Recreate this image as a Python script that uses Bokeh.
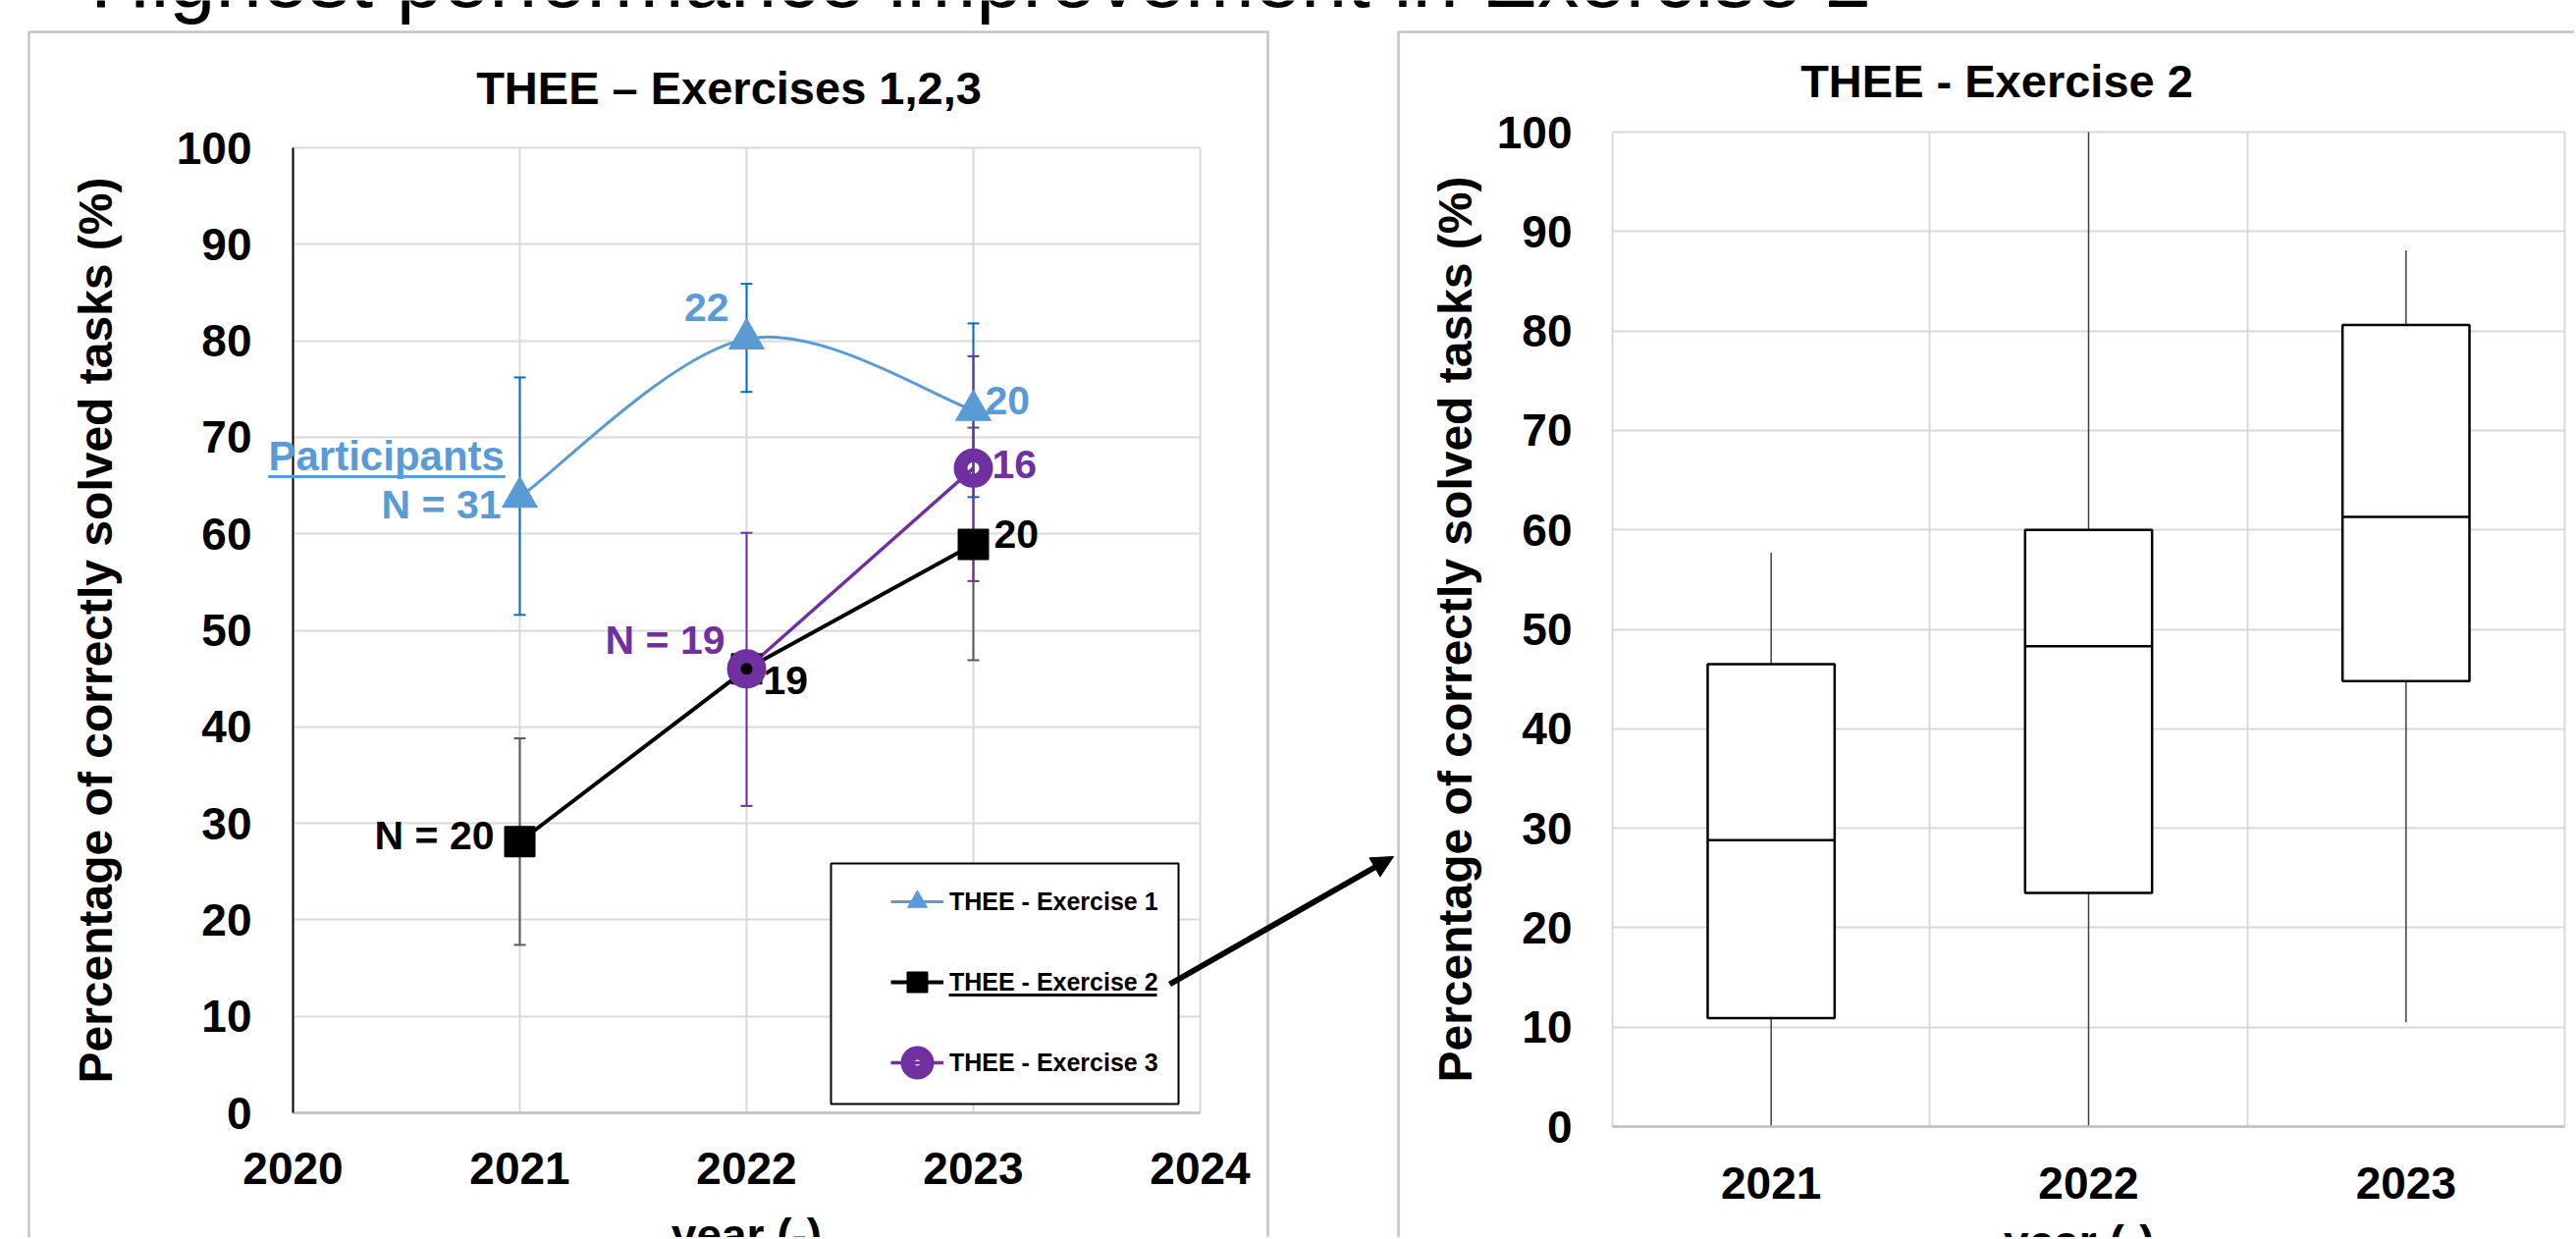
import numpy as np
from bokeh.plotting import figure
from bokeh.layouts import column, row
from bokeh.models import (Range1d, FixedTicker, Whisker, TeeHead, Legend, LegendItem, Label,
                          Arrow, NormalHead, PolyAnnotation, ColumnDataSource, Grid)
from bokeh.embed import file_html
from bokeh.resources import INLINE

# ----------------------------------------------------------------- data
years = [2021, 2022, 2023]

ex1_mean = [63.8, 80.2, 72.8]
ex1_low = [51.6, 74.7, 63.8]
ex1_high = [76.2, 85.9, 81.8]
ex1_n = ["N = 31", "22", "20"]

ex2_mean = [28.1, 46.0, 58.9]
ex2_low = [17.4, None, 46.9]
ex2_high = [38.8, None, 71.0]
ex2_n = ["N = 20", "19", "20"]

ex3_years = [2022, 2023]
ex3_mean = [46.0, 66.8]
ex3_low = [31.8, 55.1]
ex3_high = [60.1, 78.4]
ex3_n = ["N = 19", "16"]

series_names = ["THEE - Exercise 1", "THEE - Exercise 2", "THEE - Exercise 3"]

box_years = ["2021", "2022", "2023"]
box_min = [0.0, 0.0, 10.5]
box_q1 = [10.9, 23.5, 44.8]
box_median = [28.8, 48.3, 61.3]
box_q3 = [46.5, 60.0, 80.6]
box_max = [57.7, 100.0, 88.1]

x_ticks = [2020, 2021, 2022, 2023, 2024]
y_ticks = [0, 10, 20, 30, 40, 50, 60, 70, 80, 90, 100]

slide_title = "Highest performance improvement in Exercise 2"
left_title = "THEE \u2013 Exercises 1,2,3"
right_title = "THEE - Exercise 2"
y_label = "Percentage of correctly solved tasks (%)"
x_label = "year (-)"

# ----------------------------------------------------------------- style / geometry
FONT = "Liberation Sans"
BLUE = "#5B9BD5"
BLUE_ERR = "#0070C0"
PURPLE = "#7030A0"
GRAY_ERR = "#595959"
GRID = "#D9D9D9"
BOX_LINE = "#3A3A3A"
MID = 0.3465          # baseline -> middle of text box, in em

TOTAL_W = 2622
TOTAL_H = 1260
TOP_H = 28            # strip with the (cut) slide title
H = TOTAL_H - TOP_H   # chart canvases
W1 = 1422
W2 = TOTAL_W - W1

# picture-pixel position of the data frames
L_LEFT, L_RIGHT, L_TOP, L_BOTTOM = 298, 1222, 150, 1133
R_LEFT, R_RIGHT, R_TOP, R_BOTTOM = 1642, 2612, 134, 1147

HAS_CROSS = "cross_bounds" in Grid.properties()


def lin_range(pa, va, pb, vb, size):
    s = (vb - va) / (pb - pa)
    a = va - pa * s
    b = va + (size - pa) * s
    return Range1d(min(a, b), max(a, b))


def p1x(px):
    return 2020 + (px - L_LEFT) / (L_RIGHT - L_LEFT) * 4


def p1y(py):
    return (L_BOTTOM - py) / (L_BOTTOM - L_TOP) * 100


def p2x(px):
    return (px - R_LEFT) / (R_RIGHT - R_LEFT) * 3


def p2y(py):
    return (R_BOTTOM - py) / (R_BOTTOM - R_TOP) * 100


def style_axes(p, standoff_x, standoff_y):
    for ax in (p.xaxis[0], p.yaxis[0]):
        ax.major_tick_out = 0
        ax.major_tick_in = 0
        ax.minor_tick_out = 0
        ax.minor_tick_in = 0
        ax.major_label_text_font = FONT
        ax.major_label_text_font_size = "46px"
        ax.major_label_text_font_style = "bold"
        ax.major_label_text_color = "black"
        ax.axis_label_text_font = FONT
        ax.axis_label_text_font_size = "48px"
        ax.axis_label_text_font_style = "bold"
        ax.axis_label_text_color = "black"
    p.xaxis[0].major_label_standoff = standoff_x
    p.yaxis[0].major_label_standoff = standoff_y


def grids(p, xt, yt, xb, yb):
    if HAS_CROSS:
        p.xgrid.ticker = FixedTicker(ticks=xt)
        p.ygrid.ticker = FixedTicker(ticks=yt)
        p.xgrid.bounds = xb
        p.ygrid.bounds = yb
        p.xgrid.cross_bounds = yb
        p.ygrid.cross_bounds = xb
        p.grid.grid_line_color = GRID
        p.grid.grid_line_width = 2
    else:
        p.grid.visible = False
        p.segment(x0=xt, y0=[yb[0]] * len(xt), x1=xt, y1=[yb[1]] * len(xt),
                  line_color=GRID, line_width=2, level="underlay")
        p.segment(x0=[xb[0]] * len(yt), y0=yt, x1=[xb[1]] * len(yt), y1=yt,
                  line_color=GRID, line_width=2, level="underlay")


def add_label(p, x, y, text, size, color, align="left", dx=0, dy=0):
    # dx, dy: screen px offsets (+down) of the text baseline from (x, y)
    fs = float(size)
    p.add_layout(Label(x=x, y=y, x_offset=dx, y_offset=-(dy - MID * fs), text=text,
                       text_align=align, text_baseline="middle", text_font=FONT,
                       text_font_size="%dpx" % size, text_font_style="bold", text_color=color))


# ----------------------------------------------------------------- slide title strip
p0 = figure(width=TOTAL_W, height=TOP_H, x_range=Range1d(0, TOTAL_W), y_range=Range1d(0, TOP_H),
            output_backend="svg", toolbar_location=None, x_axis_location=None,
            y_axis_location=None, min_border=0)
p0.outline_line_color = None
p0.grid.visible = False
p0.add_layout(Label(x=91.5, y=TOP_H - (6 - MID * 85), text=slide_title, text_font=FONT,
                    text_font_size="85px", text_color="black", text_baseline="middle"))

# ----------------------------------------------------------------- left chart
p1 = figure(width=W1, height=H,
            x_range=lin_range(L_LEFT, 2020, L_RIGHT, 2024, W1),
            y_range=lin_range(L_TOP - TOP_H, 100, L_BOTTOM - TOP_H, 0, H),
            output_backend="svg", toolbar_location=None, min_border=0)
p1.outline_line_color = None
p1.xaxis.ticker = FixedTicker(ticks=x_ticks)
p1.yaxis.ticker = FixedTicker(ticks=y_ticks)
p1.xaxis.fixed_location = 0
p1.yaxis.fixed_location = 2020
p1.xaxis.bounds = (2020, 2024)
p1.yaxis.bounds = (0, 100)
grids(p1, x_ticks, y_ticks, (2020, 2024), (0, 100))
style_axes(p1, 40, 42)
p1.yaxis.axis_line_color = "black"
p1.yaxis.axis_line_width = 2
p1.xaxis.axis_line_color = "#BFBFBF"
p1.xaxis.axis_line_width = 2.5
p1.yaxis.axis_label = y_label
p1.yaxis.axis_label_standoff = 53

# chart title
add_label(p1, p1x(742), p1y(105), left_title, 47, "black", align="center")

# legend frame (white box hiding the grid)
p1.quad(left=p1x(846), right=p1x(1200), top=p1y(879), bottom=p1y(1124),
        fill_color="white", line_color="black", line_width=2)


def add_err(xs, lows, highs, color):
    keep = [i for i in range(len(xs)) if lows[i] is not None]
    src = ColumnDataSource(dict(x=[xs[i] for i in keep], lo=[lows[i] for i in keep],
                                hi=[highs[i] for i in keep]))
    p1.add_layout(Whisker(source=src, base="x", lower="lo", upper="hi", dimension="height",
                          line_color=color, line_width=2, level="underlay",
                          upper_head=TeeHead(size=12, line_color=color, line_width=2),
                          lower_head=TeeHead(size=12, line_color=color, line_width=2)))


add_err(years, ex1_low, ex1_high, BLUE_ERR)
add_err(years, ex2_low, ex2_high, GRAY_ERR)
add_err(ex3_years, ex3_low, ex3_high, PURPLE)

# exercise 1: smoothed line (Catmull-Rom bezier through the data points)
xs = np.array(years, dtype=float)
ys = np.array(ex1_mean, dtype=float)
qx = np.concatenate([[xs[0]], xs, [xs[-1]]])
qy = np.concatenate([[ys[0]], ys, [ys[-1]]])
n = len(xs)
cx0 = [qx[i + 1] + (qx[i + 2] - qx[i]) / 6 for i in range(n - 1)]
cy0 = [qy[i + 1] + (qy[i + 2] - qy[i]) / 6 for i in range(n - 1)]
cx1 = [qx[i + 2] - (qx[i + 3] - qx[i + 1]) / 6 for i in range(n - 1)]
cy1 = [qy[i + 2] - (qy[i + 3] - qy[i + 1]) / 6 for i in range(n - 1)]
ex1_curve = p1.bezier(x0=xs[:-1], y0=ys[:-1], x1=xs[1:], y1=ys[1:],
                      cx0=cx0, cy0=cy0, cx1=cx1, cy1=cy1, line_color=BLUE, line_width=3)
ex2_line = p1.line(years, ex2_mean, line_color="black", line_width=4)
ex3_line = p1.line(ex3_years, ex3_mean, line_color=PURPLE, line_width=3.5)

ex1_pts = p1.scatter(years, ex1_mean, marker="triangle", size=36, fill_color=BLUE,
                     line_color=BLUE, line_width=1)
ex2_pts = p1.scatter(years, ex2_mean, marker="square", size=30, fill_color="black",
                     line_color="black", line_width=2, line_join="round")
ex3_pts = p1.scatter(ex3_years, ex3_mean, marker="circle", size=26, fill_alpha=0,
                     line_color=PURPLE, line_width=14)

legend = Legend(items=[LegendItem(label=series_names[0], renderers=[ex1_curve, ex1_pts]),
                       LegendItem(label=series_names[1], renderers=[ex2_line, ex2_pts]),
                       LegendItem(label=series_names[2], renderers=[ex3_line, ex3_pts])],
                location=(907, 139 + (H - 1218)), orientation="vertical", glyph_width=54,
                glyph_height=50, label_height=50, spacing=32, padding=10, margin=0,
                label_standoff=6, label_text_font=FONT, label_text_font_size="25px",
                label_text_font_style="bold", label_text_color="black",
                border_line_color=None, background_fill_alpha=0)
p1.add_layout(legend)

# underline of the highlighted legend entry
p1.add_layout(PolyAnnotation(xs=[p1x(966), p1x(1178), p1x(1178), p1x(966)],
                             ys=[p1y(1011.5), p1y(1011.5), p1y(1014.5), p1y(1014.5)],
                             fill_color="black", fill_alpha=1, line_alpha=0))

# point annotations: (dx, dy) screen px of the text baseline from the point, +down
label_offsets = {
    ("ex1", 0): (-19, 22, "right"),
    ("ex1", 1): (-18, -18, "right"),
    ("ex1", 2): (12, 4, "left"),
    ("ex2", 0): (-26, 8, "right"),
    ("ex2", 1): (17, 26, "left"),
    ("ex2", 2): (21, 4, "left"),
    ("ex3", 0): (-22, -15, "right"),
    ("ex3", 1): (19, 10, "left"),
}
for key, xs_, ys_, texts, color in (("ex1", years, ex1_mean, ex1_n, BLUE),
                                     ("ex2", years, ex2_mean, ex2_n, "black"),
                                     ("ex3", ex3_years, ex3_mean, ex3_n, PURPLE)):
    for i, t in enumerate(texts):
        dx, dy, al = label_offsets[(key, i)]
        add_label(p1, xs_[i], ys_[i], t, 41, color, align=al, dx=dx, dy=dy)

add_label(p1, years[0], ex1_mean[0], "Participants", 42, BLUE, align="left", dx=-256, dy=-27.5)
p1.add_layout(PolyAnnotation(xs=[p1x(272.7), p1x(514.3), p1x(514.3), p1x(272.7)],
                             ys=[p1y(483.5), p1y(483.5), p1y(486.5), p1y(486.5)],
                             fill_color=BLUE, fill_alpha=1, line_alpha=0))

# x axis title (cut by the bottom edge, as in the slide)
add_label(p1, 2022, p1y(1232 + 0.905 * 46), x_label, 46, "black", align="center")

# chart-area border and connecting arrow
p1.add_layout(PolyAnnotation(xs=[p1x(29), p1x(29), p1x(1291), p1x(1291)],
                             ys=[p1y(1500), p1y(32), p1y(32), p1y(1500)],
                             fill_alpha=0, line_color=BOX_LINE, line_width=2.5))
p1.add_layout(Arrow(end=NormalHead(size=22, fill_color="black", line_color="black"),
                    x_start=p1x(1191), y_start=p1y(1002), x_end=p1x(1419), y_end=p1y(872),
                    line_color="black", line_width=6))

# ----------------------------------------------------------------- right chart (box plot)
box_x = [i + 0.5 for i in range(len(box_years))]
cat_edges = list(range(len(box_years) + 1))

p2 = figure(width=W2, height=H,
            x_range=lin_range(R_LEFT - W1, 0, R_RIGHT - W1, 3, W2),
            y_range=lin_range(R_TOP - TOP_H, 100, R_BOTTOM - TOP_H, 0, H),
            output_backend="svg", toolbar_location=None, min_border=0)
p2.outline_line_color = None
p2.xaxis.ticker = FixedTicker(ticks=box_x)
p2.xaxis.major_label_overrides = {bx: yr for bx, yr in zip(box_x, box_years)}
p2.yaxis.ticker = FixedTicker(ticks=y_ticks)
p2.xaxis.fixed_location = 0
p2.yaxis.fixed_location = 0
p2.xaxis.bounds = (0, 3)
p2.yaxis.bounds = (0, 100)
grids(p2, cat_edges, y_ticks, (0, 3), (0, 100))
style_axes(p2, 41, 41)
p2.yaxis.axis_line_color = None
p2.xaxis.axis_line_color = "#BFBFBF"
p2.xaxis.axis_line_width = 2.5
p2.yaxis.axis_label = y_label
p2.yaxis.axis_label_standoff = 13

add_label(p2, p2x(2033.5), p2y(98), right_title, 47, "black", align="center")

bsrc = ColumnDataSource(dict(x=box_x, lo=box_min, q1=box_q1, med=box_median, q3=box_q3,
                             hi=box_max, xl=[b - 0.2 for b in box_x],
                             xr=[b + 0.2 for b in box_x]))
p2.segment(x0="x", y0="q3", x1="x", y1="hi", source=bsrc, line_color="#404040", line_width=1.5)
p2.segment(x0="x", y0="q1", x1="x", y1="lo", source=bsrc, line_color="#404040", line_width=1.5)
p2.vbar(x="x", bottom="q1", top="q3", width=0.4, source=bsrc, fill_color="white",
        line_color="black", line_width=2.5)
p2.segment(x0="xl", y0="med", x1="xr", y1="med", source=bsrc, line_color="black",
           line_width=2.5)

add_label(p2, 1.47, p2y(1239 + 0.905 * 46), x_label, 46, "black", align="center")
p2.add_layout(PolyAnnotation(xs=[p2x(1424), p2x(1424), p2x(2700), p2x(2700)],
                             ys=[p2y(1500), p2y(32), p2y(32), p2y(1500)],
                             fill_alpha=0, line_color=BOX_LINE, line_width=2.5))

layout = column(p0, row(p1, p2))
open("out.html", "w").write(file_html(layout, INLINE))
